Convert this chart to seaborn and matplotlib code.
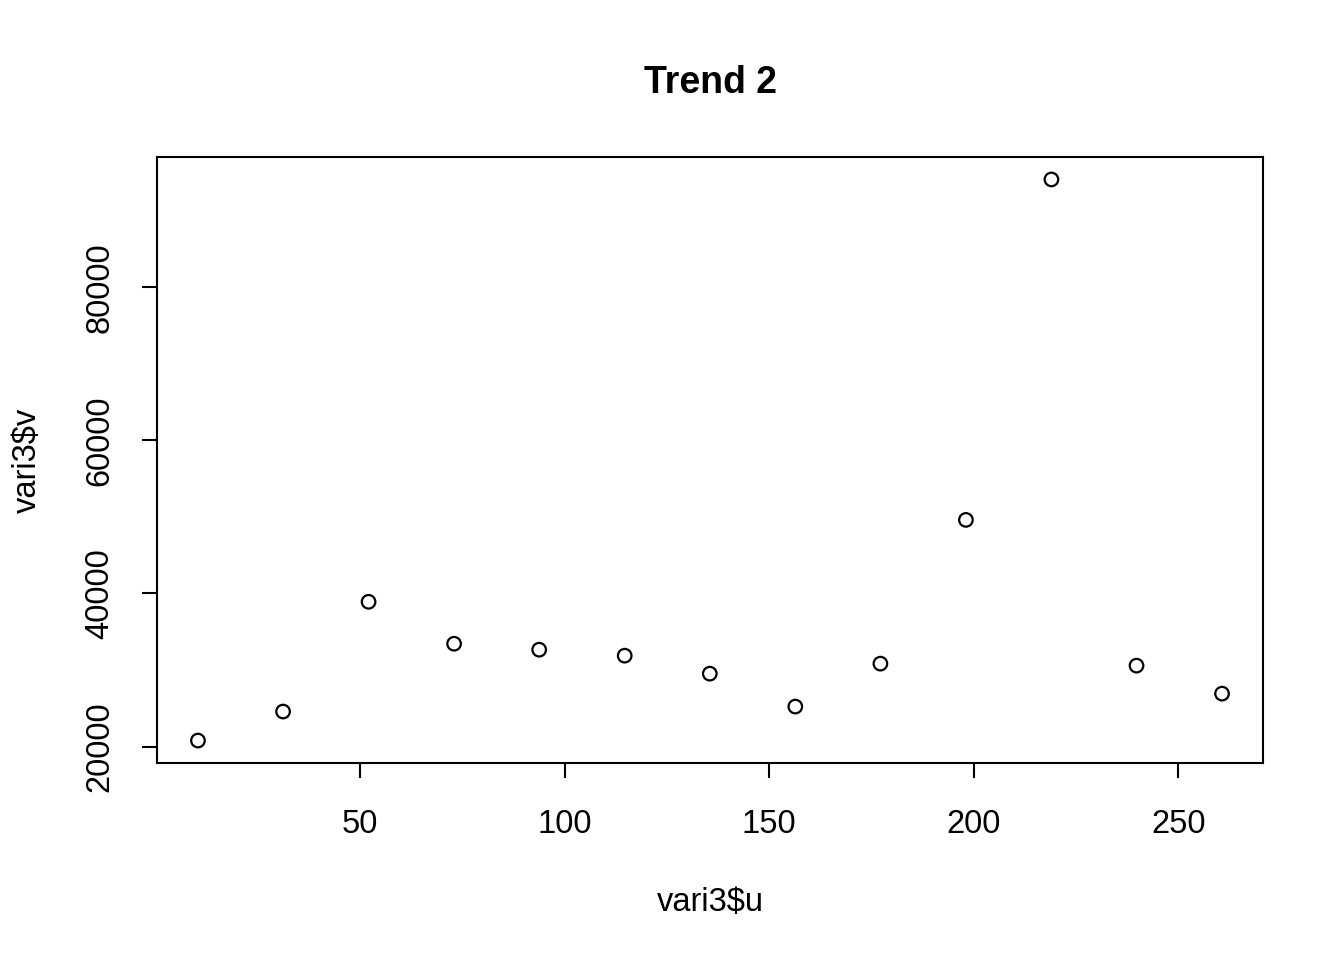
import seaborn as sns
import pandas as pd
import matplotlib.pyplot as plt

u_vals = [10.4, 31.2, 52.1, 73.0, 93.8, 114.7, 135.5, 156.4, 177.2, 198.1, 219.0, 239.8, 260.7]
v_vals = [20780, 24570, 38910, 33430, 32650, 31870, 29520, 25220, 30830, 49610, 94090, 30570, 26910]
x_ticks = [50, 100, 150, 200, 250]
y_ticks = [20000, 40000, 60000, 80000]

df = pd.DataFrame({"u": u_vals, "v": v_vals})

sns.set_style("white")
plt.rcParams["font.family"] = ["Liberation Sans", "DejaVu Sans"]
plt.rcParams["text.color"] = "black"
plt.rcParams["axes.labelcolor"] = "black"
plt.rcParams["xtick.color"] = "black"
plt.rcParams["ytick.color"] = "black"

fig = plt.figure(figsize=(13.44, 9.6), dpi=100)
ax = fig.add_axes([157 / 1344, 1 - 763 / 960, (1263 - 157) / 1344, (763 - 157) / 960])

sns.scatterplot(data=df, x="u", y="v", ax=ax, marker="o", s=95,
                facecolor="none", edgecolor="black", linewidth=1.6)

# R-style 4% padding
xr = max(u_vals) - min(u_vals)
yr = max(v_vals) - min(v_vals)
ax.set_xlim(min(u_vals) - 0.04 * xr, max(u_vals) + 0.04 * xr)
ax.set_ylim(min(v_vals) - 0.04 * yr, max(v_vals) + 0.04 * yr)

ax.set_xticks(x_ticks)
ax.set_yticks(y_ticks)
ax.set_yticklabels([str(t) for t in y_ticks], rotation=90, va="center")
ax.tick_params(axis="both", direction="out", length=11, width=1.5,
               labelsize=23.5, labelcolor="black", color="black", bottom=True, left=True)
ax.tick_params(axis="x", pad=22)
ax.tick_params(axis="y", pad=19)

for sp in ax.spines.values():
    sp.set_color("black")
    sp.set_linewidth(1.5)

ax.set_xlabel("vari3\\$u", fontsize=23.5, labelpad=34)
ax.set_ylabel("vari3\\$v", fontsize=23.5, labelpad=30)
ax.set_title("Trend 2", fontsize=27, fontweight="bold", pad=46)

fig.savefig("out.png", dpi=100)
